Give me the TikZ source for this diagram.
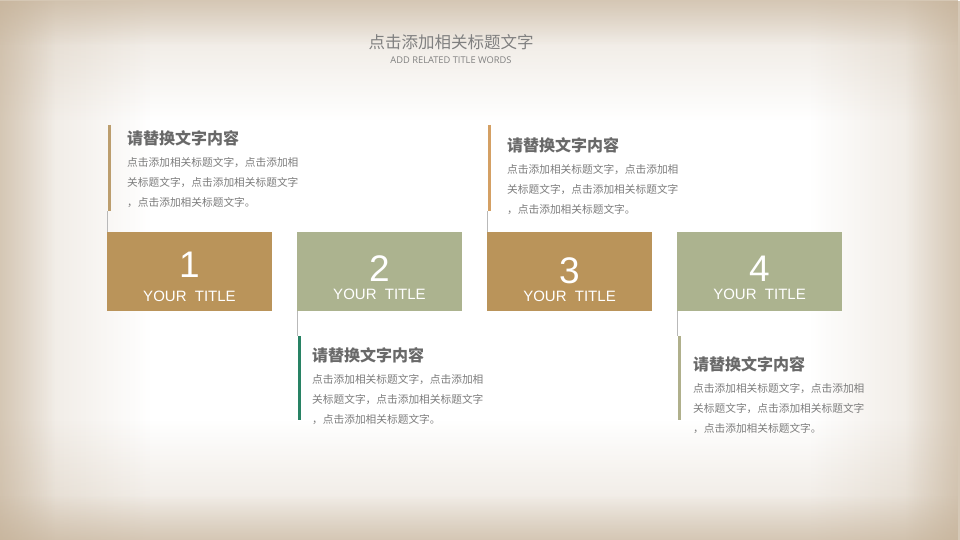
\documentclass[tikz,border=0pt]{standalone}
\usepackage{fontspec}
\setmainfont{Liberation Sans}
\newfontfamily\cjk{Noto Sans CJK SC}
\newfontfamily\subfont{Open Sans}
\usetikzlibrary{fadings}
\tikzfading[name=fadeR, left color=transparent!0, right color=transparent!100]
\tikzfading[name=fadeL, right color=transparent!0, left color=transparent!100]
\tikzfading[name=fadeD, top color=transparent!0, bottom color=transparent!100]
\tikzfading[name=fadeU, bottom color=transparent!0, top color=transparent!100]
\definecolor{edgec}{RGB}{196,176,150}
\definecolor{tanbox}{RGB}{186,148,90}
\definecolor{sagebox}{RGB}{172,179,143}
\definecolor{barA}{RGB}{188,158,110}
\definecolor{barB}{RGB}{40,130,100}
\definecolor{barC}{RGB}{212,160,100}
\definecolor{barD}{RGB}{176,176,140}
\definecolor{headc}{RGB}{105,105,105}
\definecolor{bodyc}{RGB}{125,125,125}
\tikzset{
  box/.style={minimum width=165pt, minimum height=79pt, inner sep=0pt, anchor=north west},
  num/.style={text=white, font=\fontsize{37}{37}\selectfont, inner sep=0pt},
  ttl/.style={text=white, font=\fontsize{15}{15}\selectfont, inner sep=0pt},
  head/.style={text=headc, font=\cjk\bfseries\fontsize{16}{16}\selectfont, inner sep=0pt, anchor=west},
  body/.style={text=bodyc, font=\cjk\fontsize{10.7}{12}\selectfont, inner sep=0pt, anchor=west},
  thick bar/.style={line width=3pt},
  thin bar/.style={line width=0.8pt, draw=gray!55},
  vigw/.style={edgec, fill opacity=0.35},
  vign/.style={edgec, fill opacity=0.55},
}
\begin{document}
\begin{tikzpicture}[x=1pt,y=-1pt]
\useasboundingbox (0,0) rectangle (960,540);
% background vignette (two stacked layers per edge)
\fill[white] (0,0) rectangle (960,540);
\fill[vigw, path fading=fadeR] (0,0) rectangle (150,540);
\fill[vigw, path fading=fadeL] (810,0) rectangle (960,540);
\fill[vigw, path fading=fadeD] (0,0) rectangle (960,120);
\fill[vigw, path fading=fadeU] (0,420) rectangle (960,540);
\fill[vign, path fading=fadeR] (0,0) rectangle (55,540);
\fill[vign, path fading=fadeL] (905,0) rectangle (960,540);
\fill[vign, path fading=fadeD] (0,0) rectangle (960,45);
\fill[vign, path fading=fadeU] (0,495) rectangle (960,540);

% title
\node[text=gray, font=\cjk\fontsize{16.5}{16.5}\selectfont, inner sep=0pt] (title) at (451,42) {点击添加相关标题文字};
\node[text=gray, font=\subfont\fontsize{9.3}{9.5}\selectfont, inner sep=0pt] (subtitle) at (451,60) {ADD RELATED TITLE WORDS};

% boxes
\node[box, fill=tanbox] (b1) at (107,232) {};
\node[box, fill=sagebox] (b2) at (297,232) {};
\node[box, fill=tanbox] (b3) at (487,232) {};
\node[box, fill=sagebox] (b4) at (677,232) {};

\node[num] (n1) at (189.5,265) {1};
\node[ttl] (t1) at (189.5,296) {YOUR\ \ TITLE};
\node[num] (n2) at (379.5,269) {2};
\node[ttl] (t2) at (379.5,294) {YOUR\ \ TITLE};
\node[num] (n3) at (569.5,271) {3};
\node[ttl] (t3) at (569.5,296) {YOUR\ \ TITLE};
\node[num] (n4) at (759.5,269) {4};
\node[ttl] (t4) at (759.5,294) {YOUR\ \ TITLE};

% bars block 1
\coordinate (a1top) at (109,125);
\coordinate (a1bot) at (109,211);
\draw[thick bar, barA] (a1top) -- (a1bot);
\draw[thin bar] (a1bot -| b1.north west) -- (b1.north west);
% bars block 3
\coordinate (a3top) at (489.5,125);
\coordinate (a3bot) at (489.5,211);
\draw[thick bar, barC] (a3top) -- (a3bot);
\draw[thin bar] (a3bot -| b3.north west) -- (b3.north west);
% bars block 2
\coordinate (a2top) at (299.5,336);
\coordinate (a2bot) at (299.5,420);
\draw[thin bar] (b2.south west) -- (a2top -| b2.south west);
\draw[thick bar, barB] (a2top) -- (a2bot);
% bars block 4
\coordinate (a4top) at (679.5,336);
\coordinate (a4bot) at (679.5,420);
\draw[thin bar] (b4.south west) -- (a4top -| b4.south west);
\draw[thick bar, barD] (a4top) -- (a4bot);

% text block 1
\node[head] (h1) at (127,138) {请替换文字内容};
\node[body] (p1a) at (127,163) {点击添加相关标题文字，点击添加相};
\node[body] (p1b) at (127,183) {关标题文字，点击添加相关标题文字};
\node[body] (p1c) at (127,203) {，点击添加相关标题文字。};
% text block 3
\node[head] (h3) at (507,145) {请替换文字内容};
\node[body] (p3a) at (507,170) {点击添加相关标题文字，点击添加相};
\node[body] (p3b) at (507,190) {关标题文字，点击添加相关标题文字};
\node[body] (p3c) at (507,210) {，点击添加相关标题文字。};
% text block 2
\node[head] (h2) at (312,355) {请替换文字内容};
\node[body] (p2a) at (312,380) {点击添加相关标题文字，点击添加相};
\node[body] (p2b) at (312,400) {关标题文字，点击添加相关标题文字};
\node[body] (p2c) at (312,420) {，点击添加相关标题文字。};
% text block 4
\node[head] (h4) at (693,364) {请替换文字内容};
\node[body] (p4a) at (693,389) {点击添加相关标题文字，点击添加相};
\node[body] (p4b) at (693,409) {关标题文字，点击添加相关标题文字};
\node[body] (p4c) at (693,429) {，点击添加相关标题文字。};
\end{tikzpicture}
\end{document}
